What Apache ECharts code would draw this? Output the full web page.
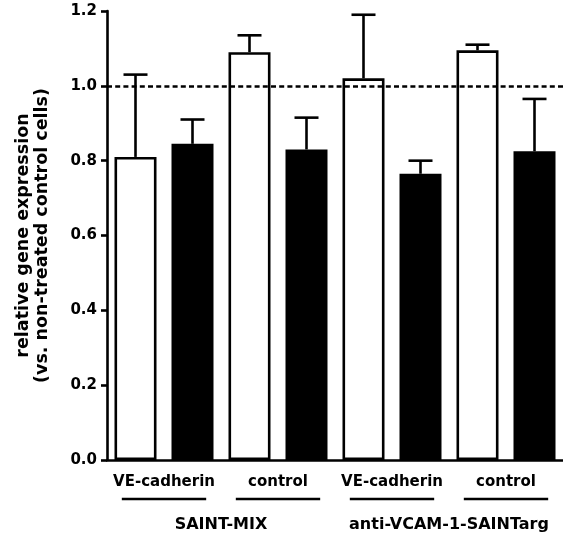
<!DOCTYPE html>
<html>
<head>
<meta charset="utf-8">
<script src="https://cdn.jsdelivr.net/npm/echarts@6/dist/echarts.min.js"></script>
<style>
  html, body { margin: 0; padding: 0; background: #fff; }
  #main { width: 563px; height: 537px; }
</style>
</head>
<body>
<div id="main"></div>
<script>
// data
var pairLabels = ['VE-cadherin', 'control', 'VE-cadherin', 'control'];
var groupLabels = ['SAINT-MIX', 'anti-VCAM-1-SAINTarg'];
var openMeans = [0.81, 1.09, 1.02, 1.095];
var openSd = [0.22, 0.045, 0.17, 0.015];
var filledMeans = [0.845, 0.83, 0.765, 0.825];
var filledSd = [0.065, 0.085, 0.035, 0.14];
var yTicks = [0, 0.2, 0.4, 0.6, 0.8, 1.0, 1.2];
var refLine = 1.0;

var font = 'DejaVu Sans';
var lw = 2.6;

// interleave open / filled bars into 8 slots
var barCats = [];
var barData = [];
var errData = [];
for (var i = 0; i < pairLabels.length; i++) {
    barCats.push(pairLabels[i] + ' open ' + i, pairLabels[i] + ' filled ' + i);
    barData.push({
        value: openMeans[i],
        itemStyle: { color: '#fff', borderColor: '#000', borderWidth: lw }
    });
    barData.push({
        value: filledMeans[i],
        itemStyle: { color: '#000', borderColor: '#000', borderWidth: lw }
    });
    errData.push([2 * i, openMeans[i], openMeans[i] + openSd[i]]);
    errData.push([2 * i + 1, filledMeans[i], filledMeans[i] + filledSd[i]]);
}

var myChart = echarts.init(document.getElementById('main'));

var option = {
    animation: false,
    grid: { left: 107, top: 11, width: 463, bottom: 77 },
    xAxis: [{
        type: 'category',
        data: barCats,
        axisLine: { lineStyle: { color: '#000', width: lw } },
        axisTick: { show: false },
        axisLabel: { show: false }
    }, {
        type: 'category',
        data: pairLabels,
        position: 'bottom',
        axisLine: { show: false },
        axisTick: { show: false },
        axisLabel: {
            interval: 0, margin: 15, color: '#000', fontFamily: font, fontWeight: 'bold', fontSize: 15
        }
    }, {
        type: 'category',
        data: groupLabels,
        position: 'bottom',
        axisLine: { show: false },
        axisTick: { show: false },
        axisLabel: {
            interval: 0, margin: 57, color: '#000', fontFamily: font, fontWeight: 'bold', fontSize: 16
        }
    }],
    yAxis: {
        type: 'value',
        min: yTicks[0],
        max: yTicks[yTicks.length - 1],
        interval: 0.2,
        name: 'relative gene expression\n(vs. non-treated control cells)',
        nameLocation: 'middle',
        nameRotate: 90,
        nameGap: 55,
        nameTextStyle: {
            color: '#000', fontFamily: font, fontWeight: 'bold', fontSize: 17.5, lineHeight: 19
        },
        axisLine: { show: true, lineStyle: { color: '#000', width: lw } },
        axisTick: { show: true, length: 6, lineStyle: { color: '#000', width: lw } },
        splitLine: { show: false },
        axisLabel: {
            margin: 10, color: '#000', fontFamily: font, fontWeight: 'bold', fontSize: 15,
            formatter: function (v) { return v.toFixed(1); }
        }
    },
    series: [{
        type: 'bar',
        data: barData,
        barWidth: 42,
        markLine: {
            silent: true,
            symbol: 'none',
            label: { show: false },
            lineStyle: { color: '#000', width: lw, type: [5, 3.2] },
            data: [{ yAxis: refLine }]
        }
    }, {
        // upper error bars
        type: 'custom',
        data: errData,
        z: 3,
        renderItem: function (params, api) {
            var base = api.coord([api.value(0), api.value(1)]);
            var top = api.coord([api.value(0), api.value(2)]);
            var half = 12;
            return {
                type: 'group',
                children: [{
                    type: 'line',
                    shape: { x1: base[0], y1: base[1], x2: top[0], y2: top[1] },
                    style: { stroke: '#000', lineWidth: lw }
                }, {
                    type: 'line',
                    shape: { x1: top[0] - half, y1: top[1], x2: top[0] + half, y2: top[1] },
                    style: { stroke: '#000', lineWidth: lw }
                }]
            };
        }
    }, {
        // underlines below each pair of bars
        type: 'custom',
        xAxisIndex: 1,
        data: pairLabels.map(function (d, i) { return [i, 0]; }),
        renderItem: function (params, api) {
            var p = api.coord([api.value(0), 0]);
            var w = api.size([1, 0])[0] * 0.37;
            return {
                type: 'line',
                shape: { x1: p[0] - w, y1: p[1] + 39, x2: p[0] + w, y2: p[1] + 39 },
                style: { stroke: '#000', lineWidth: lw }
            };
        }
    }]
};

myChart.setOption(option);
</script>
</body>
</html>
